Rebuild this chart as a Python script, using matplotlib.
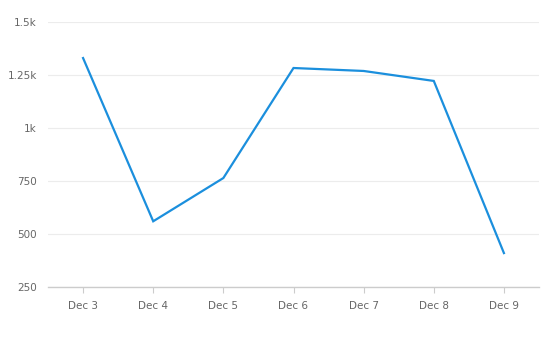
import matplotlib
matplotlib.use("Agg")
import matplotlib.pyplot as plt
from matplotlib.ticker import FuncFormatter

categories = ["Dec 3", "Dec 4", "Dec 5", "Dec 6", "Dec 7", "Dec 8", "Dec 9"]
values = [1330, 560, 764, 1283, 1269, 1222, 410]
yticks = [250, 500, 750, 1000, 1250, 1500]
ytick_labels = ["250", "500", "750", "1k", "1.25k", "1.5k"]

fig = plt.figure(figsize=(5.47, 3.37), dpi=100)
ax = fig.add_axes([48/547, 1-287/337, (539-48)/547, (287-22)/337])
x = list(range(len(categories)))
ax.plot(x, values, color="#1b8fdd", linewidth=1.6, solid_joinstyle="miter")
ax.set_xlim(-0.5, len(categories)-0.5)
ax.set_ylim(250, 1500)
ax.set_yticks(yticks)
ax.set_yticklabels(ytick_labels)
ax.set_xticks(x)
ax.set_xticklabels(categories)
ax.grid(axis="y", color="#ececec", linewidth=0.8)
ax.set_axisbelow(True)
for s in ["left", "right", "top"]:
    ax.spines[s].set_visible(False)
ax.spines["bottom"].set_color("#cccccc")
ax.spines["bottom"].set_linewidth(1)
ax.tick_params(axis="y", length=0, pad=8, labelsize=7.5, labelcolor="#666666")
ax.tick_params(axis="x", length=4, color="#cccccc", pad=6, labelsize=7.5, labelcolor="#666666")
fig.savefig("out.png", dpi=100)
